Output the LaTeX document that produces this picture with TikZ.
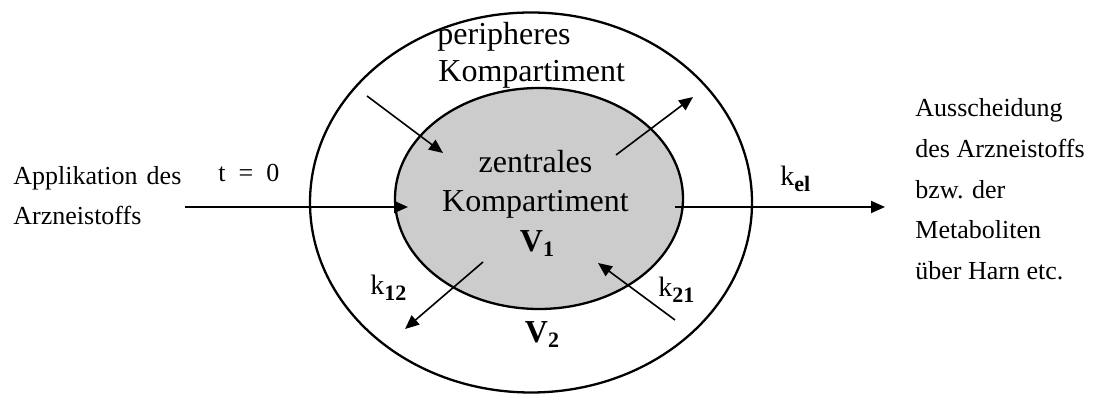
\documentclass[tikz,border=0pt]{standalone}
\usepackage{fontspec}
\setmainfont{Liberation Serif}
\usetikzlibrary{shapes.geometric,arrows.meta}
\begin{document}
\begin{tikzpicture}[x=0.5pt,y=-0.5pt,
  comp/.style={draw,ellipse,line width=1.15pt,inner sep=0pt,outer sep=0pt},
  arr/.style={line width=1pt,-{Triangle[length=7pt,width=6pt]}},
  darr/.style={line width=0.8pt,-{Triangle[length=7pt,width=6pt]}},
  small/.style={font=\fontsize{13}{15}\selectfont,inner sep=0pt,anchor=base west},
  big/.style={font=\fontsize{16}{19}\selectfont,inner sep=0pt,anchor=base},
  klab/.style={font=\fontsize{14}{16}\selectfont,inner sep=0pt,anchor=base west}]
\useasboundingbox (0,0) rectangle (1096,394);
\fill[white] (0,0) rectangle (1096,394);
% compartments
\node[comp,minimum width=221pt,minimum height=190pt] (outer) at (531,202.5) {};
\node[comp,fill={rgb,255:red,204;green,204;blue,204},minimum width=144pt,minimum height=110.5pt] (inner) at (539,198.5) {};
% coordinates for arrows
\coordinate (inS) at (185,207);
\coordinate (inE) at (408,207);
\coordinate (elS) at (675,207);
\coordinate (elE) at (885,207);
\coordinate (ulS) at (367,96);
\coordinate (ulE) at (443,153);
\coordinate (urS) at (616,155);
\coordinate (urE) at (693,97);
\coordinate (llS) at (483,262);
\coordinate (llE) at (405,329);
\coordinate (lrS) at (675,320);
\coordinate (lrE) at (598,263);
\draw[arr] (inS) -- (inE);
\draw[arr] (elS) -- (elE);
\draw[darr] (ulS) -- (ulE);
\draw[darr] (urS) -- (urE);
\draw[darr] (llS) -- (llE);
\draw[darr] (lrS) -- (lrE);
% texts
\node[big,anchor=base west] (p1) at (437,45) {peripheres};
\node[big,anchor=base west] (p2) at (438,82) {Kompartiment};
\node[big] (z1) at (535.5,173) {zentrales};
\node[big] (z2) at (535.5,212) {Kompartiment};
\node[big] (v1) at (537,252) {\textbf{V}\raisebox{-0.15em}{\fontsize{11}{11}\selectfont\textbf{1}}};
\node[big] (v2) at (542,343) {\textbf{V}\raisebox{-0.15em}{\fontsize{11}{11}\selectfont\textbf{2}}};
\node[small] (app1) at (13,185) {Applikation\hspace{0.35em}des};
\node[small] (app2) at (13,225) {Arzneistoffs};
\node[small] (t0) at (218,182) {t\hspace{0.5em}=\hspace{0.5em}0};
\node[klab] (k12) at (370,295) {k\raisebox{-0.2em}{\fontsize{11}{11}\selectfont\textbf{12}}};
\node[klab] (k21) at (658,297) {k\raisebox{-0.2em}{\fontsize{11}{11}\selectfont\textbf{21}}};
\node[klab] (kel) at (780,186) {k\raisebox{-0.2em}{\fontsize{11}{11}\selectfont\textbf{el}}};
\node[small] (r1) at (915,117) {Ausscheidung};
\node[small] (r2) at (915,158) {des Arzneistoffs};
\node[small] (r3) at (915,199) {bzw. der};
\node[small] (r4) at (915,239) {Metaboliten};
\node[small] (r5) at (915,280) {über Harn etc.};
\end{tikzpicture}
\end{document}
